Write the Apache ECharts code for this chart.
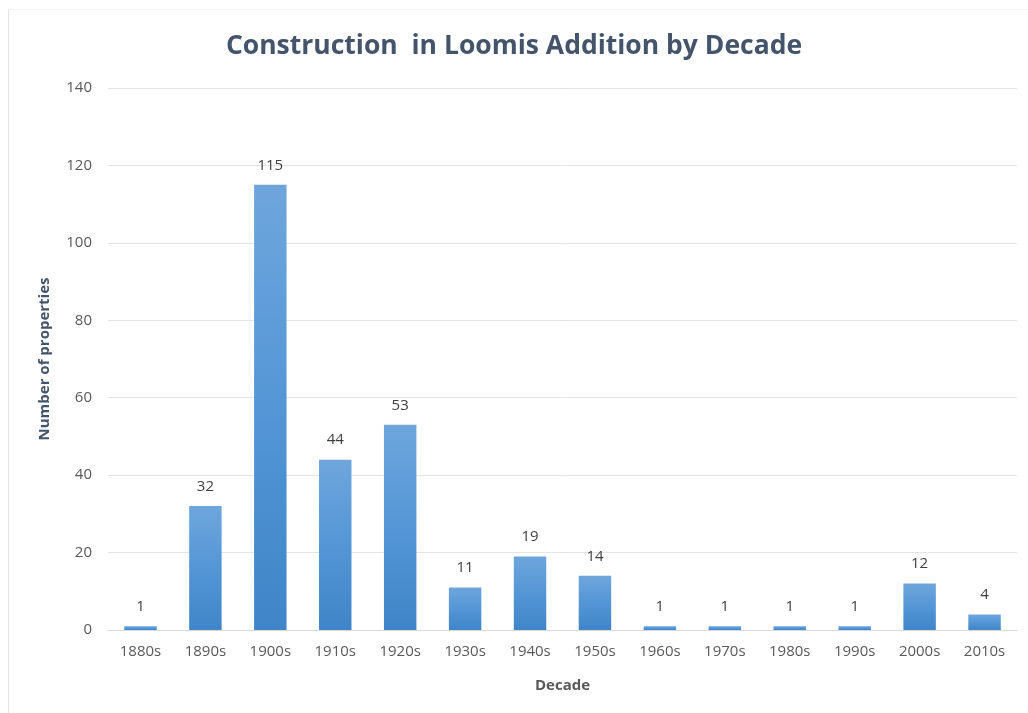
<!DOCTYPE html>
<html>
<head>
<meta charset="utf-8">
<script src="https://cdn.jsdelivr.net/npm/echarts@6/dist/echarts.min.js"></script>
<style>
  html, body { margin: 0; padding: 0; background: #fff; }
  #chart { width: 1028px; height: 713px; }
  .frame {
    position: absolute; left: 8px; top: 9px; width: 1020px; height: 704px;
    border-left: 1px solid #e4e4e4; border-top: 1px solid #f4f4f4;
    pointer-events: none;
  }
</style>
</head>
<body>
<div id="chart"></div>
<div class="frame"></div>
<script>
// decades and number of properties built in each
const decades = ['1880s', '1890s', '1900s', '1910s', '1920s', '1930s', '1940s',
  '1950s', '1960s', '1970s', '1980s', '1990s', '2000s', '2010s']
const counts = [1, 32, 115, 44, 53, 11, 19, 14, 1, 1, 1, 1, 12, 4]
const yTicks = [0, 20, 40, 60, 80, 100, 120, 140]

const font = '"Open Sans", "Liberation Sans", sans-serif'
const myChart = echarts.init(document.getElementById('chart'))

myChart.setOption({
  animation: false,
  title: {
    text: 'Construction  in Loomis Addition by Decade',
    left: 'center',
    top: 28,
    textStyle: {
      fontFamily: font,
      fontSize: 26.5,
      fontWeight: 'bold',
      color: '#44546a'
    }
  },
  grid: {
    left: 108,
    right: 11,
    top: 88,
    bottom: 83
  },
  xAxis: {
    type: 'category',
    data: decades,
    name: 'Decade',
    nameLocation: 'middle',
    nameGap: 48,
    nameTextStyle: {
      fontFamily: font,
      fontSize: 15,
      fontWeight: 'bold',
      color: '#595959'
    },
    axisLine: { lineStyle: { color: '#d9d9d9', width: 1 } },
    axisTick: { show: false },
    axisLabel: {
      fontFamily: font,
      fontSize: 15,
      color: '#595959',
      margin: 14
    }
  },
  yAxis: {
    type: 'value',
    min: yTicks[0],
    max: yTicks[yTicks.length - 1],
    interval: 20,
    name: 'Number of properties',
    nameLocation: 'middle',
    nameGap: 56,
    nameTextStyle: {
      fontFamily: font,
      fontSize: 15,
      fontWeight: 'bold',
      color: '#44546a'
    },
    axisLine: { show: false },
    axisTick: { show: false },
    axisLabel: {
      fontFamily: font,
      fontSize: 15,
      color: '#595959',
      margin: 16
    },
    splitLine: { lineStyle: { color: '#e4e4e4', width: 1 } }
  },
  series: [{
    type: 'bar',
    data: counts,
    barWidth: '50%',
    itemStyle: {
      color: new echarts.graphic.LinearGradient(0, 0, 0, 1, [
        { offset: 0, color: '#6ea6dc' },
        { offset: 0.5, color: '#5496d6' },
        { offset: 1, color: '#3f85c7' }
      ])
    },
    label: {
      show: true,
      position: 'top',
      distance: 12,
      fontFamily: font,
      fontSize: 15,
      color: '#404040'
    }
  }]
})
</script>
</body>
</html>
